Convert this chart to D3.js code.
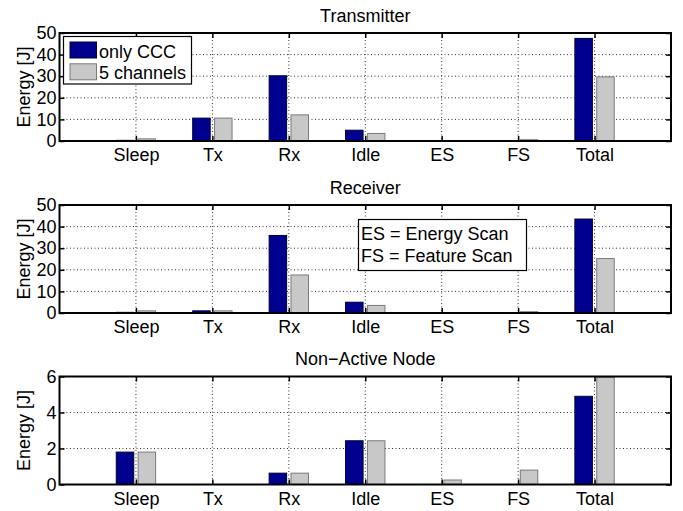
<!DOCTYPE html>
<html>
<head>
<meta charset="utf-8">
<script src="https://cdn.jsdelivr.net/npm/d3@7"></script>
<style>
  html, body { margin: 0; padding: 0; background: #fff; }
  svg { display: block; font-family: "Liberation Sans", Arial, Helvetica, sans-serif; }
</style>
</head>
<body>
<svg id="chart" width="683" height="511"></svg>
<script>
// Energy consumption per state, two configurations
const categories = ["Sleep", "Tx", "Rx", "Idle", "ES", "FS", "Total"];
const seriesNames = ["only CCC", "5 channels"];

const transmitterOnlyCCC = [0.3, 10.6, 30.2, 5.0, 0.2, 0, 47.5];
const transmitterFiveCh  = [1.0, 10.6, 12.1, 3.5, 0, 0.6, 29.7];

const receiverOnlyCCC = [0.3, 1.0, 35.9, 5.0, 0.2, 0, 43.5];
const receiverFiveCh  = [1.0, 1.0, 17.6, 3.5, 0, 0.6, 25.2];

const nonActiveOnlyCCC = [1.8, 0, 0.63, 2.43, 0, 0, 4.9];
const nonActiveFiveCh  = [1.8, 0, 0.63, 2.43, 0.25, 0.8, 5.95];

const panelTitles = ["Transmitter", "Receiver", "Non\u2212Active Node"];
const energyTicks = [0, 10, 20, 30, 40, 50];
const idleTicks = [0, 2, 4, 6];
const abbreviationNotes = ["ES = Energy Scan", "FS = Feature Scan"];

const panels = [
  { title: panelTitles[0], series: [transmitterOnlyCCC, transmitterFiveCh], ticks: energyTicks, top: 33,  legend: true },
  { title: panelTitles[1], series: [receiverOnlyCCC, receiverFiveCh],       ticks: energyTicks, top: 205, notes: true },
  { title: panelTitles[2], series: [nonActiveOnlyCCC, nonActiveFiveCh],     ticks: idleTicks,   top: 376.5 }
];

const fills = ["#00008f", "#c8c8c8"];
const edges = ["#000033", "#7a7a7a"];

const left = 59.5, right = 671, plotH = 108;
const svg = d3.select("#chart");
const fontSize = 18;

const x = d3.scaleLinear().domain([0, categories.length + 1]).range([left, right]);
const unit = x(1) - x(0);
const barW = 0.229 * unit;
const offsets = [-0.143 * unit, 0.143 * unit];

panels.forEach(p => {
  const g = svg.append("g");
  const top = p.top, bottom = p.top + plotH;
  const y = d3.scaleLinear().domain([0, d3.max(p.ticks)]).range([bottom, top]);

  // background
  g.append("rect").attr("x", left).attr("y", top).attr("width", right - left).attr("height", plotH).attr("fill", "#fff");

  // dotted grid
  const grid = g.append("g").attr("stroke", "#333").attr("stroke-width", 1).attr("stroke-dasharray", "1,2.5");
  categories.forEach((c, i) => {
    grid.append("line").attr("x1", x(i + 1)).attr("x2", x(i + 1)).attr("y1", top).attr("y2", bottom);
  });
  p.ticks.slice(1, -1).forEach(t => {
    grid.append("line").attr("x1", left).attr("x2", right).attr("y1", y(t)).attr("y2", y(t));
  });

  // bars
  p.series.forEach((vals, s) => {
    g.append("g").selectAll("rect").data(vals).join("rect")
      .attr("x", (d, i) => x(i + 1) + offsets[s] - barW / 2)
      .attr("width", barW)
      .attr("y", d => y(d))
      .attr("height", d => y(0) - y(d))
      .attr("fill", fills[s])
      .attr("stroke", edges[s])
      .attr("stroke-width", 1);
  });

  // axes with inward ticks
  const xAxis = d3.axisBottom(x).tickValues(d3.range(1, categories.length + 1))
    .tickFormat(i => categories[i - 1]).tickSizeInner(-5).tickSizeOuter(0).tickPadding(7.5);
  const xTop = d3.axisTop(x).tickValues(d3.range(1, categories.length + 1))
    .tickFormat("").tickSizeInner(-5).tickSizeOuter(0);
  const yAxis = d3.axisLeft(y).tickValues(p.ticks).tickFormat(d3.format("d"))
    .tickSizeInner(-5).tickSizeOuter(0).tickPadding(3);
  const yRight = d3.axisRight(y).tickValues(p.ticks).tickFormat("")
    .tickSizeInner(-5).tickSizeOuter(0);

  [
    g.append("g").attr("transform", `translate(0,${bottom})`).call(xAxis),
    g.append("g").attr("transform", `translate(0,${top})`).call(xTop),
    g.append("g").attr("transform", `translate(${left},0)`).call(yAxis),
    g.append("g").attr("transform", `translate(${right},0)`).call(yRight)
  ].forEach(a => {
    a.select(".domain").remove();
    a.selectAll(".tick line").attr("stroke", "#000").attr("stroke-width", 1.5);
    a.selectAll("text").attr("font-size", fontSize).attr("fill", "#000")
      .attr("font-family", "Liberation Sans, Arial, sans-serif");
  });

  // box
  g.append("rect").attr("x", left).attr("y", top).attr("width", right - left).attr("height", plotH)
    .attr("fill", "none").attr("stroke", "#000").attr("stroke-width", 2);

  // title
  g.append("text").attr("x", (left + right) / 2).attr("y", top - 11.5)
    .attr("text-anchor", "middle").attr("font-size", fontSize).text(p.title);

  // y label
  g.append("text").attr("transform", `translate(29.5,${(top + bottom) / 2}) rotate(-90)`)
    .attr("text-anchor", "middle").attr("font-size", fontSize).text("Energy [J]");

  if (p.legend) {
    const lg = g.append("g");
    lg.append("rect").attr("x", 63.5).attr("y", 36.5).attr("width", 128).attr("height", 47.5)
      .attr("fill", "#fff").attr("stroke", "#000").attr("stroke-width", 1.2);
    seriesNames.forEach((name, s) => {
      const yy = 42 + s * 21.8;
      lg.append("rect").attr("x", 70).attr("y", yy).attr("width", 26.5).attr("height", 16)
        .attr("fill", fills[s]).attr("stroke", edges[s]).attr("stroke-width", 1);
      lg.append("text").attr("x", 99).attr("y", yy + 15.5).attr("font-size", fontSize).text(name);
    });
  }

  if (p.notes) {
    const ng = g.append("g");
    ng.append("rect").attr("x", 358.5).attr("y", 219.5).attr("width", 168).attr("height", 51)
      .attr("fill", "#fff").attr("stroke", "#000").attr("stroke-width", 1.2);
    abbreviationNotes.forEach((t, i) => {
      ng.append("text").attr("x", 361).attr("y", 240 + i * 21.7).attr("font-size", fontSize).text(t);
    });
  }
});
</script>
</body>
</html>
